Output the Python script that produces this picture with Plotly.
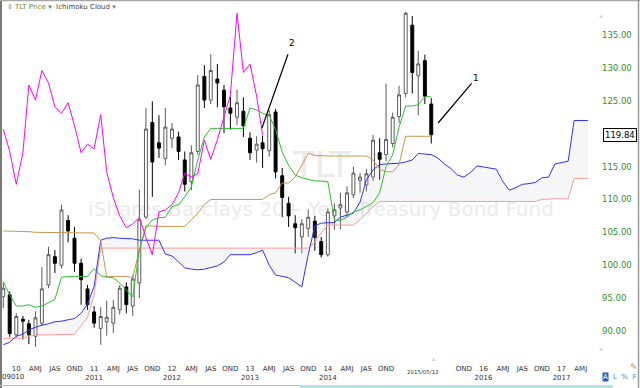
import plotly.graph_objects as go
import pandas as pd

# ---------------- data (monthly TLT) ----------------
price_start = "2009-11-01"   # first monthly candle
cloud_start = "2009-11-01"   # first plotted point of the (forward shifted) cloud

opens = [95.2, 95.5, 89.4, 91.8, 91.1, 89.2, 91.2, 97.0, 101.3, 100.0, 106.8, 104.1, 100.3, 96.4,
         92.9, 90.4, 91.4, 91.2, 93.2, 96.7, 93.8, 97.3, 107.3, 121.7, 118.6, 116.2,
         119.3, 119.5, 116.0, 112.7, 117.3, 128.7, 125.1, 128.3, 126.6, 123.9, 122.5, 123.4,
         119.3, 117.5, 118.6, 117.4, 123.3, 113.6, 109.4, 106.3, 104.3, 105.6, 106.7, 103.6,
         101.6, 107.5, 108.7, 108.1, 110.7, 112.9, 112.2, 113.4, 117.1, 116.8, 118.5, 122.6,
         126.1, 136.5, 128.8, 131.1, 124.5]
highs = [97.4, 96.0, 92.7, 92.3, 91.7, 93.0, 99.7, 102.8, 102.3, 109.2, 107.6, 105.8, 101.0, 97.0,
         93.8, 93.6, 94.6, 94.7, 97.0, 97.4, 98.5, 111.5, 123.9, 124.9, 122.8, 123.9,
         121.6, 120.3, 117.3, 118.2, 128.9, 130.4, 132.1, 130.6, 127.4, 125.6, 126.7, 125.5,
         120.2, 119.6, 119.7, 123.6, 123.8, 114.8, 110.4, 107.6, 107.0, 108.5, 107.5, 104.3,
         108.6, 109.4, 111.0, 112.0, 115.0, 114.0, 114.6, 119.8, 119.3, 127.6, 123.2, 127.3,
         138.5, 137.9, 132.6, 132.0, 125.4]
lows = [93.5, 89.1, 89.0, 88.7, 88.0, 87.6, 90.8, 96.5, 98.8, 99.5, 103.5, 99.0, 94.0, 93.2,
        90.5, 87.9, 89.3, 89.7, 92.5, 92.7, 92.3, 95.0, 107.0, 110.4, 116.3, 115.2,
        117.8, 116.0, 111.2, 111.4, 116.8, 123.9, 124.5, 124.0, 120.1, 120.6, 121.3, 119.5,
        116.0, 115.6, 114.8, 116.5, 113.2, 107.3, 105.8, 101.8, 101.8, 104.3, 102.2, 101.2,
        101.3, 105.4, 105.5, 107.3, 110.2, 111.0, 111.2, 112.8, 113.0, 115.8, 117.9, 121.6,
        125.5, 126.1, 122.8, 124.5, 118.5]
closes = [96.5, 89.6, 92.2, 91.5, 89.4, 92.0, 96.4, 101.6, 100.3, 108.4, 105.2, 100.3, 97.8, 94.0,
          91.2, 92.2, 92.1, 93.6, 96.5, 94.0, 97.9, 106.9, 120.7, 115.7, 117.8, 121.0,
          120.7, 117.3, 112.3, 117.1, 127.4, 125.1, 129.6, 127.7, 124.1, 123.1, 124.7, 121.2,
          117.1, 118.4, 117.7, 122.9, 114.2, 110.3, 107.5, 105.7, 106.3, 107.3, 104.2, 101.6,
          108.1, 108.4, 109.2, 111.0, 114.0, 113.4, 113.9, 119.0, 116.1, 119.1, 122.5, 125.9,
          138.3, 129.3, 130.6, 125.7, 119.84]

tenkan = [97.5, 95.5, 93.8, 93.8, 94.0, 93.6, 93.8, 94.3, 94.8, 98.2, 98.3, 98.3, 98.3, 98.3,
          99.5, 98.4, 98.2, 98.1, 97.3, 96.2, 95.2, 102.3, 105.7, 106.9, 107.2, 107.3,
          108.9, 109.2, 110.4, 111.9, 116.0, 119.5, 120.8, 120.8, 120.8, 120.8, 120.8, 120.8,
          123.9, 123.6, 123.1, 122.8, 120.6, 117.2, 115.2, 113.7, 113.3, 113.0, 112.8, 112.8,
          112.7, 106.9, 106.8, 107.3, 108.1, 108.4, 108.9, 109.5, 111.0, 115.0, 116.8, 121.0,
          124.2, 124.2, 124.4, 125.6, 125.6]
kijun = [105.2, 105.2, 105.2, 105.2, 105.1, 105.0, 105.0, 105.0, 105.0, 105.0, 105.0, 105.0, 105.0, 105.0,
         104.9, 103.7, 98.2, 98.3, 98.3, 98.3, 98.1, 102.3, 106.0, 105.9, 105.9, 105.9,
         105.9, 105.9, 105.9, 106.9, 107.9, 109.2, 110.0, 110.0, 110.0, 110.0, 110.0, 110.0,
         110.0, 110.0, 110.0, 110.7, 111.0, 112.5, 112.5, 113.4, 115.2, 117.0, 116.7, 116.6,
         116.6, 116.6, 116.6, 116.6, 116.6, 116.6, 116.6, 116.0, 114.6, 114.2, 114.2, 115.3,
         119.6, 119.6, 119.6, 119.6, 119.6]
span_a = [87.9, 88.3, 89.2, 89.5, 90.2, 90.6, 90.9, 91.1, 91.4, 91.5, 91.7, 91.9, 92.7, 94.1,
          96.8, 103.8, 104.1, 104.2, 104.1, 104.1, 104.0, 103.8, 103.8, 103.9, 103.8, 101.7,
          101.4, 100.5, 99.6, 99.4, 99.3, 99.4, 99.7, 99.9, 100.5, 101.6, 101.6, 101.6,
          101.6, 101.9, 102.3, 100.0, 98.5, 98.3, 98.1, 97.4, 96.7, 101.6, 106.0, 106.4,
          106.4, 106.5, 107.3, 107.6, 107.9, 109.6, 113.0, 114.5, 115.3, 115.4, 115.4, 115.5,
          115.7, 116.0, 117.0, 116.9, 116.8, 116.3, 115.4, 114.7, 113.7, 113.4, 114.1, 115.1,
          114.9, 114.7, 114.6, 112.7, 111.4, 111.8, 112.3, 112.4, 112.6, 113.3, 113.4, 115.4,
          115.6, 115.8, 122.0, 122.0, 122.0, 122.0, 122.0]
span_b = [88.9, 88.9, 88.9, 88.9, 89.2, 89.4, 89.4, 89.4, 89.4, 89.4, 89.4, 89.5, 90.8, 92.1,
          95.5, 102.6, 102.6, 102.6, 102.6, 102.6, 102.6, 102.6, 102.6, 102.6, 102.6, 102.6,
          102.6, 102.6, 102.6, 102.6, 102.6, 102.6, 102.6, 102.6, 102.6, 102.6, 102.6, 102.6,
          102.6, 102.6, 102.6, 102.6, 102.6, 102.6, 102.6, 102.6, 102.6, 102.6, 103.5, 104.9,
          106.1, 106.1, 106.1, 106.1, 106.1, 106.9, 107.9, 108.9, 109.7, 109.7, 109.7, 109.7,
          109.7, 109.7, 109.7, 109.7, 109.7, 109.7, 109.7, 109.7, 109.7, 109.7, 109.7, 109.7,
          109.7, 109.7, 109.7, 109.7, 109.7, 109.7, 109.7, 109.7, 109.7, 110.0, 110.1, 110.1,
          110.1, 110.1, 113.2, 113.2, 113.2, 113.2, 113.2]
chikou_lag = 26   # lagging span: close plotted 26 months back

tick_dates = ["2010-01-01", "2010-04-01", "2010-07-01", "2010-10-01",
              "2011-01-01", "2011-04-01", "2011-07-01", "2011-10-01",
              "2012-01-01", "2012-04-01", "2012-07-01", "2012-10-01",
              "2013-01-01", "2013-04-01", "2013-07-01", "2013-10-01",
              "2014-01-01", "2014-04-01", "2014-07-01", "2014-10-01",
              "2015-10-01", "2016-01-01", "2016-04-01", "2016-07-01", "2016-10-01",
              "2017-01-01", "2017-04-01"]
tick_labels = ["10", "AMJ", "JAS", "OND",
               "11<br>2011", "AMJ", "JAS", "OND",
               "12<br>2012", "AMJ", "JAS", "OND",
               "13<br>2013", "AMJ", "JAS", "OND",
               "14<br>2014", "AMJ", "JAS", "OND",
               "OND", "16<br>2016", "AMJ", "JAS", "OND",
               "17<br>2017", "AMJ"]
y_ticks = [90, 95, 100, 105, 110, 115, 125, 130, 135]   # 120 is hidden by the last-price box
last_price = closes[-1]
cursor_date = "2015-05-12"

# ---------------- derived x positions ----------------
price_dates = pd.date_range(price_start, periods=len(closes), freq="MS")
cloud_dates = pd.date_range(cloud_start, periods=len(span_a), freq="MS")
chikou_x = price_dates[:len(closes) - chikou_lag]
chikou_y = closes[chikou_lag:]

# ---------------- geometry helpers (page pixels -> paper) ----------------
W, H = 640, 388
ML, MR, MT, MB = 2, 52, 3, 32
PW, PH = W - ML - MR, H - MT - MB


def px(x):
    return (x - ML) / PW


def py(y):
    return (H - MB - y) / PH


FONT = "DejaVu Sans"

fig = go.Figure()

fig.add_trace(go.Candlestick(
    x=price_dates, open=opens, high=highs, low=lows, close=closes,
    increasing=dict(line=dict(color="#5a5a5a", width=1), fillcolor="#ffffff"),
    decreasing=dict(line=dict(color="#000000", width=1), fillcolor="#000000"),
    whiskerwidth=0, showlegend=False, hoverinfo="skip"))

fig.add_trace(go.Scatter(x=cloud_dates, y=span_b, mode="lines",
                         line=dict(color="#ff9999", width=1), showlegend=False))
fig.add_trace(go.Scatter(x=cloud_dates, y=span_a, mode="lines",
                         line=dict(color="#3030ff", width=1), fill="tonexty",
                         fillcolor="rgba(200,200,212,0.16)", showlegend=False))
fig.add_trace(go.Scatter(x=price_dates, y=kijun, mode="lines",
                         line=dict(color="#c8964c", width=1), showlegend=False))
fig.add_trace(go.Scatter(x=price_dates, y=tenkan, mode="lines",
                         line=dict(color="#2cbf2c", width=1), showlegend=False))
fig.add_trace(go.Scatter(x=chikou_x, y=chikou_y, mode="lines",
                         line=dict(color="#ff00ff", width=1), showlegend=False))

shapes = [
    # watermarks, drawn beneath the traces
    dict(type="rect", xref="paper", yref="paper", x0=px(262), x1=px(382), y0=py(185), y1=py(139),
         line=dict(width=0), fillcolor="rgba(0,0,0,0)", layer="below",
         label=dict(text="TLT", font=dict(family=FONT, size=35, color="#ebebeb"),
                    textposition="middle center")),
    dict(type="rect", xref="paper", yref="paper", x0=px(40), x1=px(602), y0=py(222), y1=py(194),
         line=dict(width=0), fillcolor="rgba(0,0,0,0)", layer="below",
         label=dict(text="iShares Barclays 20+ Year Treasury Bond Fund",
                    font=dict(family=FONT, size=20, color="#ebebeb"),
                    textposition="middle center")),
    # frame
    dict(type="line", xref="paper", yref="paper", x0=px(1), x1=px(1), y0=py(0), y1=py(388),
         line=dict(color="#7a7a7a", width=2), layer="above"),
    dict(type="line", xref="paper", yref="paper", x0=px(0), x1=px(640), y0=py(0.5), y1=py(0.5),
         line=dict(color="#a8a8a8", width=1.5), layer="above"),
    dict(type="line", xref="paper", yref="paper", x0=px(638.5), x1=px(638.5), y0=py(0), y1=py(388),
         line=dict(color="#9a9a9a", width=1.5), layer="above"),
    dict(type="line", xref="paper", yref="paper", x0=px(0), x1=px(300), y0=py(385.5), y1=py(385.5),
         line=dict(color="#c0c0c0", width=1), layer="above"),
    dict(type="rect", xref="paper", yref="paper", x0=px(300), x1=px(613), y0=py(388), y1=py(385),
         line=dict(width=0), fillcolor="#b3e1e8", layer="above"),
]

ann = [
    dict(xref="paper", yref="paper", x=px(5), y=py(7.5), xanchor="left", yanchor="middle",
         showarrow=False, font=dict(family=FONT, size=7, color="#444444"),
         text='<span style="color:#8a9a6a">⇕</span> <span style="color:#5e8a1e">TLT Price</span> '
              '<span style="color:#777777">▾</span>  Ichimoku Cloud <span style="color:#777777">▾</span>'),
    dict(x="2013-02-26", y=120.86, ax=30, ay=-85, text="2", showarrow=True, arrowhead=0,
         arrowwidth=1.2, arrowcolor="#000000", startstandoff=5,
         font=dict(family=FONT, size=9, color="#000000")),
    dict(x="2015-06-02", y=121.62, ax=38, ay=-45, text="1", showarrow=True, arrowhead=0,
         arrowwidth=1.2, arrowcolor="#000000",
         font=dict(family=FONT, size=9, color="#000000")),
    dict(xref="paper", yref="y", x=1, y=last_price, xanchor="left", yanchor="middle", xshift=15,
         text=f"{last_price:.2f}", showarrow=False, bgcolor="#ffffff", bordercolor="#000000",
         borderwidth=1, borderpad=1, font=dict(family=FONT, size=8.5, color="#000000")),
    dict(xref="paper", yref="paper", x=px(12.5), y=py(376.5), xanchor="center", yanchor="middle",
         text="09010", showarrow=False, font=dict(family=FONT, size=7, color="#333333")),
    dict(xref="x", yref="paper", x=cursor_date, y=py(372), xanchor="center", yanchor="middle",
         xshift=-11, text=cursor_date.replace("-", "/"), showarrow=False,
         font=dict(family=FONT, size=5.5, color="#333333")),
    dict(xref="x", yref="paper", x=cursor_date, y=py(358.5), xanchor="center", yanchor="middle",
         text="▴", showarrow=False, font=dict(family=FONT, size=6, color="#c8c8c8")),
    dict(xref="paper", yref="paper", x=px(600), y=py(16), xanchor="center", yanchor="middle",
         text="◂", showarrow=False, font=dict(family=FONT, size=6, color="#c8c8c8")),
    dict(xref="paper", yref="paper", x=px(600), y=py(348), xanchor="center", yanchor="middle",
         text="◂", showarrow=False, font=dict(family=FONT, size=6, color="#c8c8c8")),
    dict(xref="paper", yref="paper", x=px(634), y=py(367), xanchor="center", yanchor="middle",
         text="✎", showarrow=False, font=dict(family=FONT, size=9, color="#c09050")),
    dict(xref="paper", yref="paper", x=px(605), y=py(377), xanchor="center", yanchor="middle",
         text="A", showarrow=False, bgcolor="#2a62b8", borderpad=0,
         font=dict(family=FONT, size=7, color="#ffffff")),
    dict(xref="paper", yref="paper", x=px(611), y=py(377), xanchor="left", yanchor="middle",
         text="L  %  F", showarrow=False, font=dict(family=FONT, size=7, color="#5a7fb0")),
]

fig.update_layout(
    width=W, height=H,
    margin=dict(l=ML, r=MR, t=MT, b=MB),
    paper_bgcolor="#ffffff", plot_bgcolor="#ffffff",
    showlegend=False, hovermode=False,
    font=dict(family=FONT, size=7, color="#333333"),
    shapes=shapes, annotations=ann,
    xaxis=dict(type="date", range=["2009-10-26", "2017-05-05"], rangeslider=dict(visible=False),
               showgrid=False, zeroline=False, showline=False, ticks="",
               tickmode="array", tickvals=tick_dates, ticktext=tick_labels,
               tickfont=dict(family=FONT, size=7, color="#333333"), ticklabelstandoff=7),
    yaxis=dict(side="right", range=[86.2, 139.86], showgrid=False, zeroline=False, showline=False,
               ticks="", tickmode="array", tickvals=y_ticks, tickformat=".2f",
               tickfont=dict(family=FONT, size=8.5, color="#2f8f2f"), ticklabelstandoff=13),
)

# the page's default 8px body margin would shift the fixed-size chart; remove it
fig.write_html("out.html", config={"displayModeBar": False},
               post_script="document.body.style.margin='0px';")
